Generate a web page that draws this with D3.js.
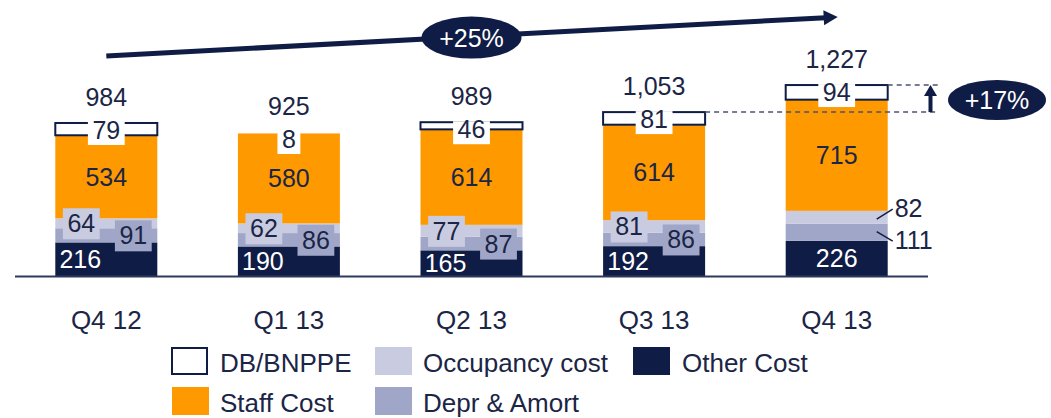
<!DOCTYPE html>
<html>
<head>
<meta charset="utf-8">
<script src="https://cdn.jsdelivr.net/npm/d3@7"></script>
<style>
  body { margin: 0; background: #fff; }
  svg { font-family: "Liberation Sans", Arial, sans-serif; }
</style>
</head>
<body>
<div id="graf"></div>
<script>
// datos
const categories = ['Q4 12', 'Q1 13', 'Q2 13', 'Q3 13', 'Q4 13']
const otherCost  = [216, 190, 165, 192, 226]
const deprAmort  = [91, 86, 87, 86, 111]
const occupancy  = [64, 62, 77, 81, 82]
const staffCost  = [534, 580, 614, 614, 715]
const dbBnppe    = [79, 8, 46, 81, 94]
const totals     = ['984', '925', '989', '1,053', '1,227']
const growthAll  = '+25%'
const growthQ4   = '+17%'

const seriesKeys  = ['other', 'depr', 'occ', 'staff', 'db']
const seriesNames = { db: 'DB/BNPPE', occ: 'Occupancy cost', other: 'Other Cost', staff: 'Staff Cost', depr: 'Depr & Amort' }

const navy = '#0f1c45'
const textCol = '#1b2545'
const color = d3.scaleOrdinal()
  .domain(seriesKeys)
  .range([navy, '#a0a6c8', '#c9cce1', '#ff9900', '#ffffff'])

const ancho_total = 1051
const alto_total = 418

const svg = d3.select('#graf').append('svg')
  .attr('width', ancho_total)
  .attr('height', alto_total)

const rows = categories.map((c, i) => ({
  cat: c, other: otherCost[i], depr: deprAmort[i], occ: occupancy[i], staff: staffCost[i], db: dbBnppe[i]
}))

const stacked = d3.stack().keys(seriesKeys)(rows)

const x = d3.scaleBand()
  .domain(categories)
  .range([15, 928])
  .paddingInner(0.4414)
  .paddingOuter(0.2207)

const y = d3.scaleLinear()
  .domain([0, 1300])
  .range([276, 276 - 1300 * 0.1555])

const cx = c => x(c) + x.bandwidth() / 2

// BARRAS
stacked.forEach(s => {
  svg.append('g').selectAll('rect')
    .data(s)
    .enter().append('rect')
    .attr('x', d => x(d.data.cat))
    .attr('y', d => y(d[1]))
    .attr('width', x.bandwidth())
    .attr('height', d => y(d[0]) - y(d[1]))
    .attr('fill', color(s.key))
    .attr('stroke', s.key === 'db' ? navy : 'none')
    .attr('stroke-width', d => (s.key === 'db' && y(d[0]) - y(d[1]) > 3) ? 2 : 0)
})

// eje
svg.append('line')
  .attr('x1', 15).attr('x2', 928)
  .attr('y1', y(0) + 0.5).attr('y2', y(0) + 0.5)
  .attr('stroke', '#2d3a5e').attr('stroke-width', 2)

const xAxis = d3.axisBottom(x).tickSize(0).tickPadding(0)
svg.append('g')
  .attr('transform', `translate(0,${ y(0) })`)
  .call(xAxis)
  .call(g => g.select('.domain').remove())
  .selectAll('text')
  .attr('y', 53)
  .attr('dy', 0)
  .attr('fill', textCol)
  .style('font-size', '26px')
  .style('font-family', '"Liberation Sans", Arial, sans-serif')

// ETIQUETAS
const labels = svg.append('g').style('font-size', '25px')

function label(xc, yBase, txt, fill, bg, padTop, padBot) {
  const g = labels.append('g')
  const r = g.append('rect')
  const t = g.append('text')
    .attr('x', xc).attr('y', yBase)
    .attr('text-anchor', 'middle')
    .attr('fill', fill)
    .text(txt)
  if (bg) {
    const w = t.node().getComputedTextLength() + 9
    r.attr('x', xc - w / 2).attr('y', yBase - padTop)
     .attr('width', w).attr('height', padTop + padBot)
     .attr('fill', bg)
  } else r.remove()
}

const byKey = {}
stacked.forEach(s => byKey[s.key] = s)
const calloutIdx = 4

categories.forEach((c, i) => {
  const mid = k => (y(byKey[k][i][0]) + y(byKey[k][i][1])) / 2
  const top = y(byKey.db[i][1])
  const xc = cx(c)
  if (i === calloutIdx) {
    label(xc, mid('other') + 9, otherCost[i], '#fff')
    const xr = x(c) + x.bandwidth()
    ;[['occ', occupancy[i], -8], ['depr', deprAmort[i], 9]].forEach(([k, v, dy]) => {
      const ym = mid(k)
      svg.append('line')
        .attr('x1', xr - 11).attr('y1', ym + (k === 'occ' ? 2 : -0.5))
        .attr('x2', xr + 5).attr('y2', ym + dy)
        .attr('stroke', navy).attr('stroke-width', 1.5)
      labels.append('text')
        .attr('x', xr + 7).attr('y', ym + dy + 8)
        .attr('fill', textCol)
        .text(v)
    })
  } else {
    label(xc - 26, mid('other') + 9, otherCost[i], '#fff')
    label(xc - 25, mid('occ') + 9, occupancy[i], textCol, color('occ'), 24, 7)
    label(xc + 27, mid('depr') + 9, deprAmort[i], textCol, color('depr'), 24, 7)
  }
  label(xc, mid('staff') + 9, staffCost[i], textCol)
  label(xc, top + 16, dbBnppe[i], textCol, '#fff', 17, 6)
  label(xc, top - 17, totals[i], textCol)
})

// FLECHA +25%
const ax1 = cx(categories[0]), ax2 = cx(categories[4]) + 1
const ay1 = 56, ay2 = 17
const ang = Math.atan2(ay2 - ay1, ax2 - ax1)
svg.append('line')
  .attr('x1', ax1).attr('y1', ay1)
  .attr('x2', ax2 - 12 * Math.cos(ang)).attr('y2', ay2 - 12 * Math.sin(ang))
  .attr('stroke', navy).attr('stroke-width', 5)
svg.append('path')
  .attr('d', d3.line()([[0, -7.5], [14, 0], [0, 7.5]]) + 'Z')
  .attr('transform', `translate(${ ax2 - 14 * Math.cos(ang) },${ ay2 - 14 * Math.sin(ang) }) rotate(${ ang * 180 / Math.PI })`)
  .attr('fill', navy)

const ex = cx(categories[2])
const ey = ay1 + (ay2 - ay1) * (ex - ax1) / (ax2 - ax1) + 1
svg.append('ellipse')
  .attr('cx', ex).attr('cy', ey).attr('rx', 50).attr('ry', 21)
  .attr('fill', navy)
svg.append('text')
  .attr('x', ex).attr('y', ey + 9)
  .attr('text-anchor', 'middle')
  .attr('fill', '#fff')
  .style('font-size', '25px')
  .text(growthAll)

// +17%
const yTop4 = y(byKey.db[4][1])
const yTop3 = y(byKey.db[3][1])
const dashX2 = 938
svg.append('line')
  .attr('x1', x(categories[4]) + x.bandwidth()).attr('x2', dashX2)
  .attr('y1', yTop4).attr('y2', yTop4)
  .attr('stroke', '#4a5370').attr('stroke-width', 1.5).attr('stroke-dasharray', '5,4')
svg.append('line')
  .attr('x1', x(categories[3]) + x.bandwidth()).attr('x2', dashX2)
  .attr('y1', yTop3).attr('y2', yTop3)
  .attr('stroke', '#4a5370').attr('stroke-width', 1.5).attr('stroke-dasharray', '5,4')
svg.append('line')
  .attr('x1', 930.5).attr('x2', 930.5)
  .attr('y1', yTop3).attr('y2', yTop4 + 10)
  .attr('stroke', navy).attr('stroke-width', 4)
svg.append('path')
  .attr('d', d3.line()([[924, yTop4 + 11], [937, yTop4 + 11], [930.5, yTop4]]) + 'Z')
  .attr('fill', navy)
svg.append('ellipse')
  .attr('cx', 997).attr('cy', 100).attr('rx', 49).attr('ry', 20)
  .attr('fill', navy)
svg.append('text')
  .attr('x', 997).attr('y', 109)
  .attr('text-anchor', 'middle')
  .attr('fill', '#fff')
  .style('font-size', '25px')
  .text(growthQ4)

// LEYENDAS
const legendItems = [
  { key: 'db', bx: 171, tx: 220, row: 0 },
  { key: 'occ', bx: 375, tx: 423, row: 0 },
  { key: 'other', bx: 633, tx: 682, row: 0 },
  { key: 'staff', bx: 172, tx: 220, row: 1 },
  { key: 'depr', bx: 375, tx: 423, row: 1 }
]
const legend = svg.append('g').attr('class', 'legend')
  .selectAll('g')
  .data(legendItems)
  .enter().append('g')
  .attr('transform', d => `translate(0,${ d.row * 40 })`)

legend.append('rect')
  .attr('x', d => d.key === 'db' ? d.bx + 1 : d.bx)
  .attr('y', d => d.key === 'db' ? 348 : 347)
  .attr('width', d => d.key === 'db' ? 35 : 37)
  .attr('height', d => d.key === 'db' ? 26 : 28)
  .attr('fill', d => color(d.key))
  .attr('stroke', d => d.key === 'db' ? navy : 'none')
  .attr('stroke-width', 2)

legend.append('text')
  .attr('x', d => d.tx)
  .attr('y', 372)
  .attr('fill', textCol)
  .style('font-size', '26px')
  .text(d => seriesNames[d.key])
</script>
</body>
</html>
